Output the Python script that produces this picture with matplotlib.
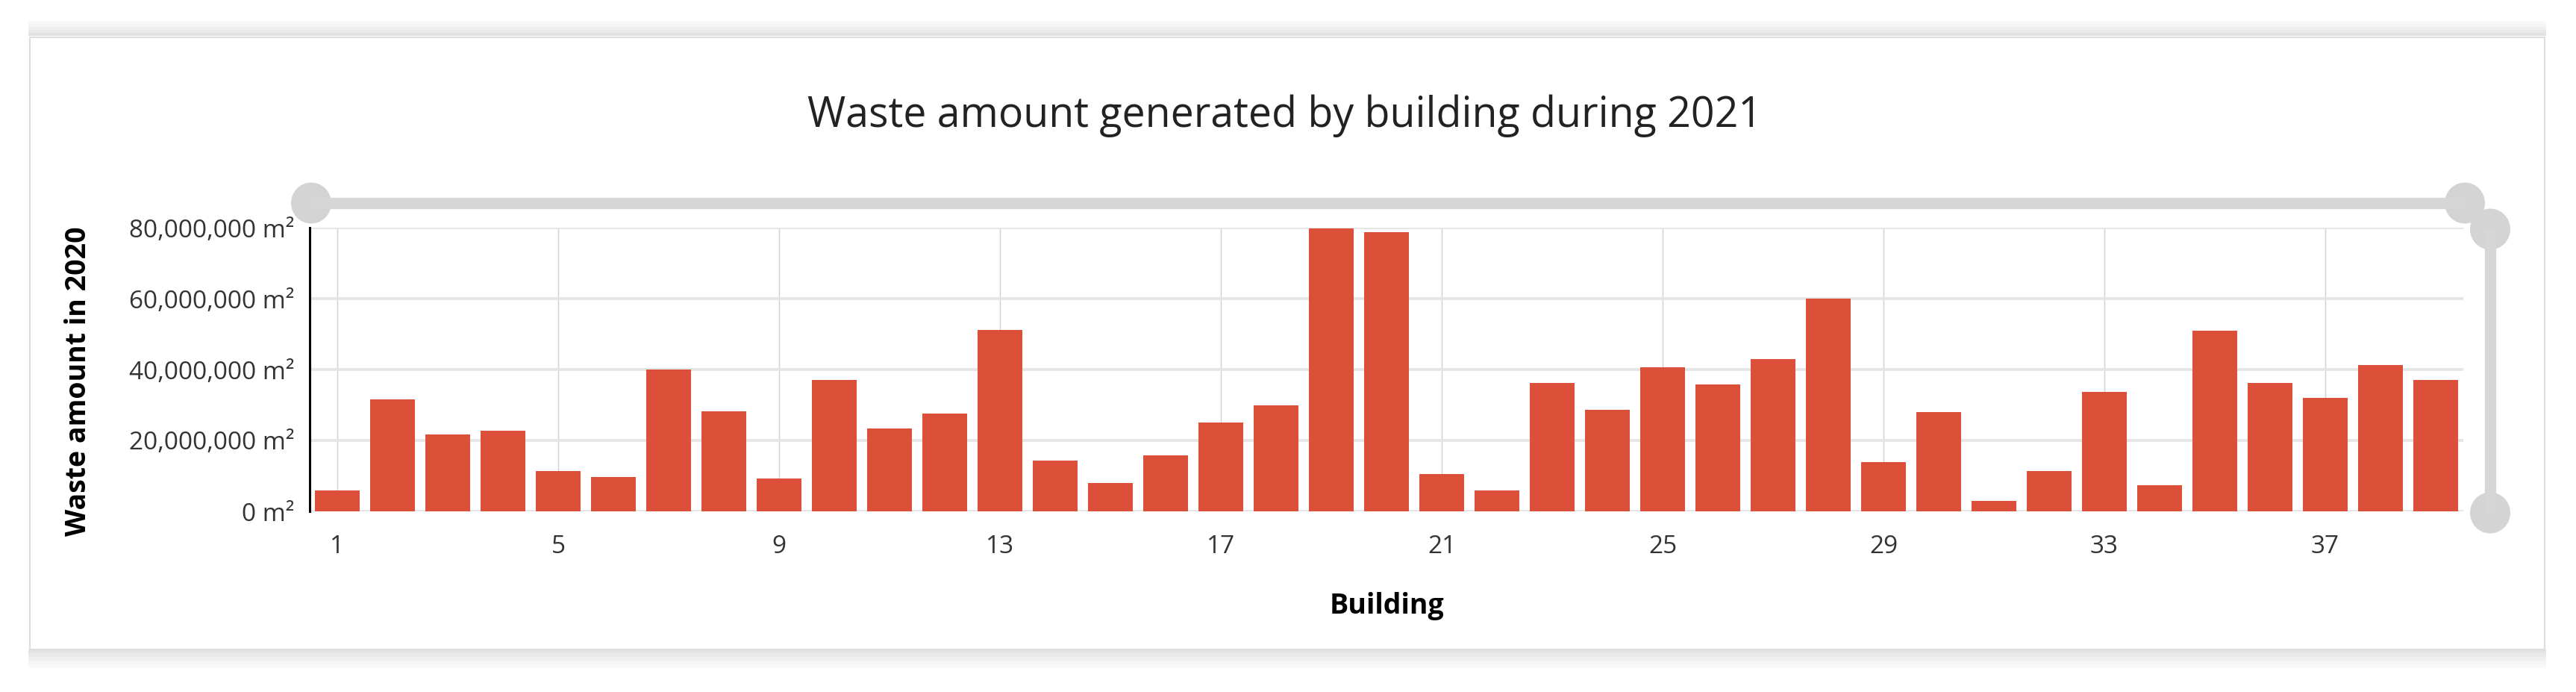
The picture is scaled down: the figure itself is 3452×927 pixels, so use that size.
import matplotlib.pyplot as plt
from matplotlib.patches import Ellipse, Rectangle
from matplotlib.ticker import FuncFormatter
import numpy as np

plt.rcParams['font.family'] = ['Open Sans', 'DejaVu Sans']

# data (waste amount per building, millions of m²)
buildings = list(range(1, 40))
waste_millions = [6.0, 31.6, 21.6, 22.8, 11.4, 9.6, 39.9, 28.3, 9.3, 37.0,
                  23.3, 27.5, 51.1, 14.4, 7.9, 15.7, 25.1, 30.0, 79.8, 78.7,
                  10.5, 6.0, 36.3, 28.6, 40.7, 35.7, 43.0, 59.9, 14.0, 28.1,
                  3.0, 11.4, 33.7, 7.4, 50.9, 36.3, 31.9, 41.3, 37.1]
x_ticks = [1, 5, 9, 13, 17, 21, 25, 29, 33, 37]
y_ticks = [0, 20_000_000, 40_000_000, 60_000_000, 80_000_000]

title = 'Waste amount generated by building during 2021'
x_label = 'Building'
y_label = 'Waste amount in 2020'

W, H = 3452, 927
fig = plt.figure(figsize=(W / 100, H / 100), dpi=100)
fig.patch.set_facecolor('white')

# background layer in pixel coordinates for the card and the slider widgets
bg = fig.add_axes([0, 0, 1, 1], zorder=0)
bg.set_xlim(0, W)
bg.set_ylim(H, 0)
bg.axis('off')

# card shadows and border
for i, c in enumerate(['#e2e2e2', '#e9e9e9', '#efefef', '#f4f4f4', '#f8f8f8']):
    bg.add_patch(Rectangle((38, 870 + i * 5), 3374, 5, color=c, lw=0))
    bg.add_patch(Rectangle((38, 48 - (i + 1) * 4), 3374, 4, color=c, lw=0))
bg.add_patch(Rectangle((40, 50), 3370, 820, facecolor='white',
                       edgecolor='#dddddd', lw=1.5))

# zoom sliders (top horizontal, right vertical)
slider_col = '#d6d6d6'
bg.plot([417, 3303], [272, 272], color=slider_col, lw=11, solid_capstyle='butt')
bg.plot([3337, 3337], [307, 687], color=slider_col, lw=11, solid_capstyle='butt')
for cx, cy in [(417, 272), (3303, 272), (3337, 307), (3337, 687)]:
    bg.add_patch(Ellipse((cx, cy), 54, 55, color='#d4d4d4', lw=0))

fig.text(1722 / W, 1 - 170 / H, title, ha='center', va='baseline',
         fontsize=40, color='#222222')

# main chart
ax = fig.add_axes([415 / W, 1 - 685 / H, (3301 - 415) / W, (685 - 305) / H],
                  zorder=1)
ax.patch.set_alpha(0)
values = np.array(waste_millions) * 1_000_000
ax.bar(buildings, values, width=0.82, color='#dc4f38', zorder=3)

ax.set_xlim(0.5, 39.5)
ax.set_ylim(0, 80_000_000)
ax.set_xticks(x_ticks)
ax.set_yticks(y_ticks)
ax.yaxis.set_major_formatter(FuncFormatter(lambda v, p: f'{int(v):,} m²'))
ax.tick_params(axis='both', length=0, labelsize=24, colors='#333333')
ax.tick_params(axis='y', pad=15)
ax.tick_params(axis='x', pad=22)

ax.grid(axis='y', color='#e6e6e6', lw=2.8, zorder=0)
ax.grid(axis='x', color='#cfcfcf', lw=1.0, zorder=0)
for s in ['top', 'right', 'bottom']:
    ax.spines[s].set_visible(False)
ax.spines['left'].set_color('black')
ax.spines['left'].set_linewidth(2.2)
ax.spines['left'].set_zorder(4)

ax.set_xlabel(x_label, fontsize=27, fontweight='bold', va='baseline')
ax.xaxis.set_label_coords(0.5, (685 - 822) / 380)
ax.set_ylabel(y_label, fontsize=27, fontweight='bold', va='baseline')
ax.yaxis.set_label_coords((115 - 415) / 2886, (685 - 511) / 380)

fig.savefig('out.png', dpi=100)
